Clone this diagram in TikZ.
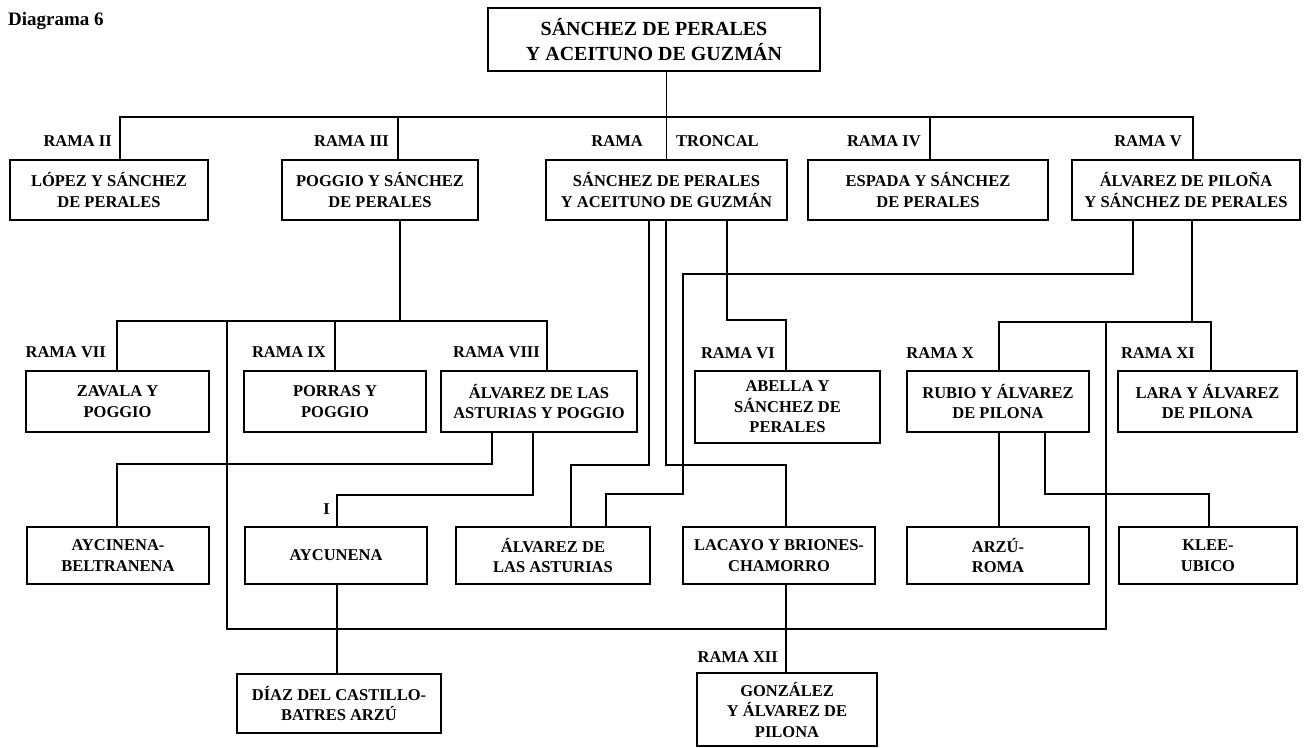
\documentclass[tikz,border=0pt]{standalone}
\usepackage{fontspec}
\setmainfont{Liberation Serif}
\begin{document}
\begin{tikzpicture}[x=1pt,y=-1pt,
  box/.style={draw,line width=2.4pt,align=center,inner sep=2pt,
    font=\fontsize{16.5}{20.5}\selectfont\bfseries},
  bigbox/.style={box,font=\fontsize{20}{25}\selectfont\bfseries},
  lab/.style={font=\fontsize{16.5}{18}\selectfont\bfseries,inner sep=0pt},
  conn/.style={line width=1.9pt}]
\useasboundingbox (0,0) rectangle (1305,747);
\fill[white] (0,0) rectangle (1305,747);
\node[anchor=north west,font=\fontsize{19}{21}\selectfont\bfseries,inner sep=0pt] (title) at (8,12) {Diagrama 6};
% row 0
\node[bigbox,minimum width=332,minimum height=63] (top) at (654,39.5) {SÁNCHEZ DE PERALES\\Y ACEITUNO DE GUZMÁN};
% row 1
\node[box,minimum width=198,minimum height=60] (lopez) at (109,190) {LÓPEZ Y SÁNCHEZ\\DE PERALES};
\node[box,minimum width=196,minimum height=60] (poggio) at (380,190) {POGGIO Y SÁNCHEZ\\DE PERALES};
\node[box,minimum width=241,minimum height=60] (troncal) at (666.5,190) {SÁNCHEZ DE PERALES\\Y ACEITUNO DE GUZMÁN};
\node[box,minimum width=240,minimum height=60] (espada) at (928,190) {ESPADA Y SÁNCHEZ\\DE PERALES};
\node[box,minimum width=228,minimum height=60] (pilona) at (1186,190) {ÁLVAREZ DE PILOÑA\\Y SÁNCHEZ DE PERALES};
% row 2
\node[box,minimum width=183,minimum height=61] (zavala) at (117.5,401.5) {ZAVALA Y\\POGGIO};
\node[box,minimum width=182,minimum height=61] (porras) at (335,401.5) {PORRAS Y\\POGGIO};
\node[box,minimum width=196,minimum height=61] (asturiasp) at (539,401.5) {ÁLVAREZ DE LAS\\ASTURIAS Y POGGIO};
\node[box,minimum width=185,minimum height=72] (abella) at (787.5,407) {ABELLA Y\\SÁNCHEZ DE\\PERALES};
\node[box,minimum width=182,minimum height=61] (rubio) at (998,401.5) {RUBIO Y ÁLVAREZ\\DE PILONA};
\node[box,minimum width=179,minimum height=61] (lara) at (1207.5,401.5) {LARA Y ÁLVAREZ\\DE PILONA};
% row 3
\node[box,minimum width=182,minimum height=57] (aycinena) at (118,555.5) {AYCINENA-\\BELTRANENA};
\node[box,minimum width=182,minimum height=57] (aycunena) at (336,555.5) {AYCUNENA};
\node[box,minimum width=194,minimum height=57] (asturias) at (553,555.5) {ÁLVAREZ DE\\LAS ASTURIAS};
\node[box,minimum width=192,minimum height=57] (lacayo) at (779,555.5) {LACAYO Y BRIONES-\\CHAMORRO};
\node[box,minimum width=182,minimum height=57] (arzu) at (998,555.5) {ARZÚ-\\ROMA};
\node[box,minimum width=178,minimum height=57] (klee) at (1208,555.5) {KLEE-\\UBICO};
% row 4
\node[box,minimum width=204,minimum height=59] (diaz) at (339,703.5) {DÍAZ DEL CASTILLO-\\BATRES ARZÚ};
\node[box,minimum width=180,minimum height=73] (gonzalez) at (787,709.5) {GONZÁLEZ\\Y ÁLVAREZ DE\\PILONA};
% labels
\node[lab,anchor=east] (l2) at (112,141) {RAMA II};
\node[lab,anchor=east] (l3) at (389,141) {RAMA III};
\node[lab,anchor=east] (lt1) at (643,141) {RAMA};
\node[lab,anchor=west] (lt2) at (676,141) {TRONCAL};
\node[lab,anchor=east] (l4) at (921,141) {RAMA IV};
\node[lab,anchor=east] (l5) at (1182,141) {RAMA V};
\node[lab,anchor=east] (l7) at (106,352) {RAMA VII};
\node[lab,anchor=east] (l9) at (326,352) {RAMA IX};
\node[lab,anchor=east] (l8) at (540,352) {RAMA VIII};
\node[lab,anchor=east] (l6) at (775,353) {RAMA VI};
\node[lab,anchor=east] (l10) at (974,353) {RAMA X};
\node[lab,anchor=east] (l11) at (1195,353) {RAMA XI};
\node[lab,anchor=east] (l12) at (778,657) {RAMA XII};
\node[lab,anchor=east] (li) at (330,509) {I};
% coordinates
\coordinate (r2) at (120,117);
\coordinate (r3) at (398,117);
\coordinate (r4) at (930,117);
\coordinate (r5) at (1193,117);
\coordinate (p0) at (400,321);
\coordinate (r7) at (117,321);
\coordinate (r9) at (335,321);
\coordinate (r8) at (547,321);
\coordinate (v227) at (227,321);
\coordinate (loopA) at (227,629);
\coordinate (loopB) at (1106,629);
\coordinate (x5) at (1106,322);
\coordinate (a8l) at (492,464);
\coordinate (ayc) at (117,464);
\coordinate (a8r) at (533,495);
\coordinate (ayu) at (337,495);
\coordinate (t1a) at (649,465);
\coordinate (t1b) at (571,465);
\coordinate (t2a) at (666,465);
\coordinate (t2b) at (786,465);
\coordinate (t3a) at (727,320);
\coordinate (t3b) at (786,320);
\coordinate (p1a) at (1133,274);
\coordinate (p1b) at (683,274);
\coordinate (p1c) at (683,494);
\coordinate (p1d) at (606,494);
\coordinate (p2a) at (1192,322);
\coordinate (rx) at (999,322);
\coordinate (rxi) at (1211,322);
\coordinate (k1) at (1045,494);
\coordinate (k2) at (1209,494);
% connectors
\draw[conn] (troncal.north |- top.south) -- (troncal.north);
\draw[conn] (r2 |- lopez.north) -- (r2) -- (r5) -- (r5 |- pilona.north);
\draw[conn] (r3) -- (r3 |- poggio.north);
\draw[conn] (r4) -- (r4 |- espada.north);
\draw[conn] (p0 |- poggio.south) -- (p0);
\draw[conn] (r7 |- zavala.north) -- (r7) -- (r8) -- (r8 |- asturiasp.north);
\draw[conn] (r9) -- (r9 |- porras.north);
\draw[conn] (v227) -- (loopA) -- (loopB) -- (x5);
\draw[conn] (a8l |- asturiasp.south) -- (a8l) -- (ayc) -- (ayc |- aycinena.north);
\draw[conn] (a8r |- asturiasp.south) -- (a8r) -- (ayu) -- (ayu |- aycunena.north);
\draw[conn] (ayu |- aycunena.south) -- (ayu |- diaz.north);
\draw[conn] (t1a |- troncal.south) -- (t1a) -- (t1b) -- (t1b |- asturias.north);
\draw[conn] (t2a |- troncal.south) -- (t2a) -- (t2b) -- (t2b |- lacayo.north);
\draw[conn] (t3a |- troncal.south) -- (t3a) -- (t3b) -- (t3b |- abella.north);
\draw[conn] (t2b |- lacayo.south) -- (t2b |- gonzalez.north);
\draw[conn] (p1a |- pilona.south) -- (p1a) -- (p1b) -- (p1c) -- (p1d) -- (p1d |- asturias.north);
\draw[conn] (p2a |- pilona.south) -- (p2a);
\draw[conn] (rx |- rubio.north) -- (rx) -- (rxi) -- (rxi |- lara.north);
\draw[conn] (rx |- rubio.south) -- (rx |- arzu.north);
\draw[conn] (k1 |- rubio.south) -- (k1) -- (k2) -- (k2 |- klee.north);
\end{tikzpicture}
\end{document}
